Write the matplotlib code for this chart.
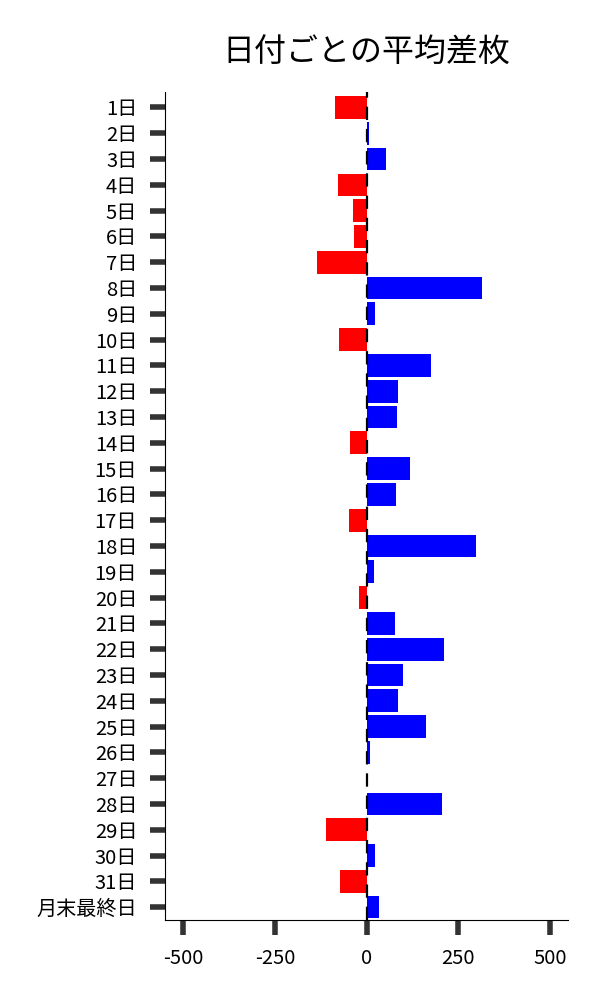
import numpy as np
import matplotlib
matplotlib.use("Agg")
import matplotlib.pyplot as plt

plt.rcParams['font.family'] = ['Noto Sans CJK JP', 'DejaVu Sans']

days = [f"{i}日" for i in range(1, 32)] + ["月末最終日"]
diff = [-87, 7, 53, -79, -38, -35, -136, 314, 24, -76,
        177, 86, 83, -46, 119, 81, -49, 298, 21, -22,
        78, 211, 100, 85, 162, 8, 0, 206, -110, 24,
        -72, 35]

colors = ['blue' if v > 0 else 'red' for v in diff]
ind = np.arange(len(days))

fig = plt.figure(figsize=(6, 10), dpi=100)
ax = fig.add_axes([0.275, 0.08, 0.672, 0.828])

ax.barh(ind, diff, height=0.88, color=colors, zorder=2)
ax.axvline(0, color='black', linestyle='--', linewidth=1.6, dashes=(6, 4), zorder=3)

ax.set_yticks(ind)
ax.set_yticklabels(days, fontsize=14.5)
ax.set_ylim(len(days) - 0.5, -0.6)
ax.set_xlim(-550, 550)
ax.set_xticks([-500, -250, 0, 250, 500])
ax.set_xticklabels(['-500', '-250', '0', '250', '500'], fontsize=14.5)

ax.spines['top'].set_visible(False)
ax.spines['right'].set_visible(False)
ax.tick_params(axis='both', length=11, width=4, color='#333333', pad=9)

ax.set_title("日付ごとの平均差枚", fontsize=23, pad=22)

fig.savefig("out.png", dpi=100)
